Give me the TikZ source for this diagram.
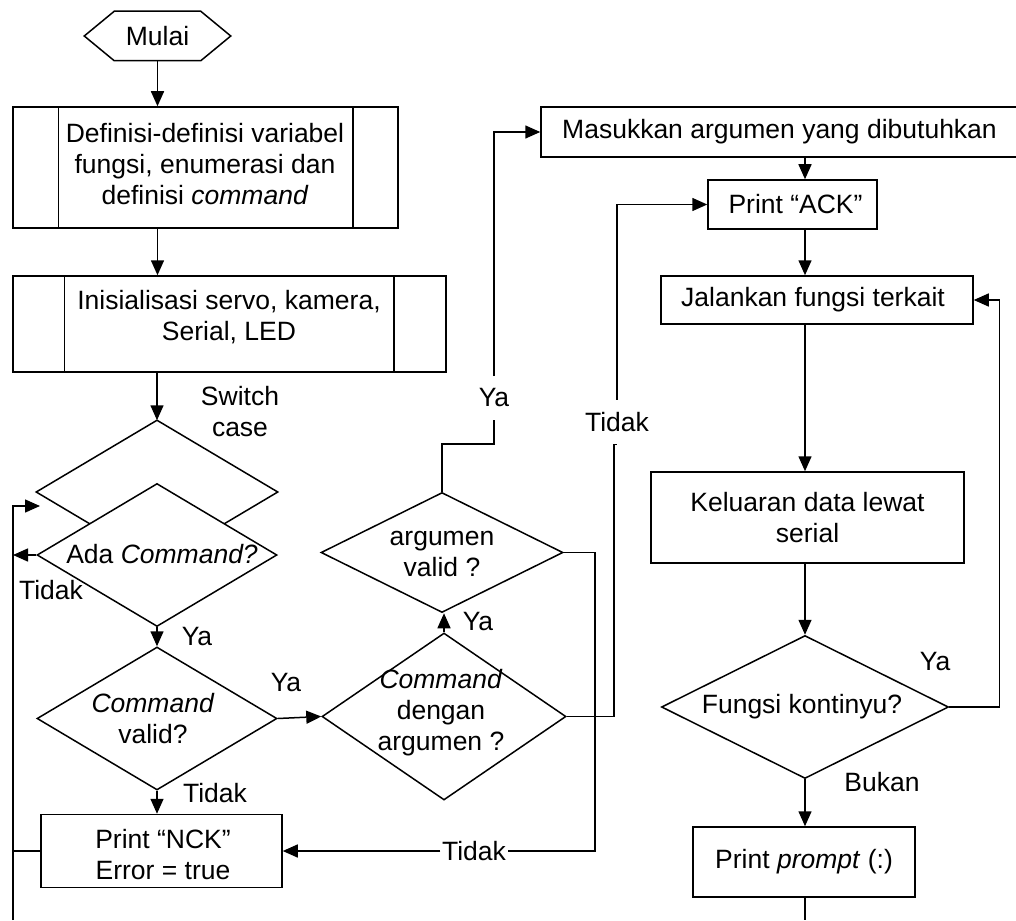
\documentclass[tikz,border=0pt]{standalone}
\usepackage{fontspec}
\setmainfont{Liberation Sans}
\usetikzlibrary{arrows.meta,shapes.geometric,calc}

\tikzset{
  every picture/.style={line width=1.5pt},
  flow/.style={-{Triangle[length=15pt,width=13pt]}},
  box/.style={draw, rectangle, inner sep=0pt},
  dia/.style={draw, diamond, inner sep=0pt},
  txt/.style={inner sep=0pt, align=center},
  lbl/.style={inner sep=2pt},
  gaplbl/.style={inner xsep=2pt, inner ysep=12pt},
}

\begin{document}
\begin{tikzpicture}[x=1pt, y=-1pt, font=\fontsize{26.5}{31}\selectfont]
\useasboundingbox (0,0) rectangle (1016,920);

% ---------- left column ----------
\node[inner sep=0pt, minimum width=145pt, minimum height=48pt] (mulai) at (157.5,36) {Mulai};
\draw (mulai.west) -- ([xshift=30pt]mulai.north west) -- ([xshift=-30pt]mulai.north east)
      -- (mulai.east) -- ([xshift=-30pt]mulai.south east) -- ([xshift=30pt]mulai.south west) -- cycle;

\node[box, minimum width=385pt, minimum height=121pt] (def) at (205.5,167.5) {};
\draw ([xshift=46pt]def.north west) -- ([xshift=46pt]def.south west);
\draw ([xshift=-46pt]def.north east) -- ([xshift=-46pt]def.south east);
\node[txt] (deftext) at (205,164) {Definisi-definisi variabel\\fungsi, enumerasi dan\\definisi \textit{command}};

\node[box, minimum width=433pt, minimum height=96pt] (init) at (229.5,324) {};
\draw ([xshift=52pt]init.north west) -- ([xshift=52pt]init.south west);
\draw ([xshift=-53pt]init.north east) -- ([xshift=-53pt]init.south east);
\node[txt] (inittext) at (229,317) {Inisialisasi servo, kamera,\\Serial, LED};

% switch case diamond, partly hidden behind the first test
\node[diamond, inner sep=0pt, minimum width=240pt, minimum height=142pt] (d1) at (157,492) {};
\draw ($(d1.west)!0.44!(d1.south)$) -- (d1.west) -- (d1.north) -- (d1.east) -- ($(d1.east)!0.44!(d1.south)$);
\node[txt] (swtext) at (240,412) {Switch\\case};

\node[dia, minimum width=240pt, minimum height=143pt] (d2) at (157,555) {};
\node[txt] (d2text) at (162,554) {Ada \textit{Command?}};

\node[dia, minimum width=240pt, minimum height=143pt] (d3) at (157,718.5) {};
\node[txt] (d3text) at (153,719) {\textit{Command}\\valid?};

\node[box, minimum width=241pt, minimum height=73pt] (nck) at (161.5,851) {};
\node[txt] (ncktext) at (163,855) {Print “NCK”\\Error = true};

% ---------- middle column ----------
\node[dia, minimum width=244pt, minimum height=167pt] (d4) at (444,716.5) {};
\node[txt] (d4text) at (441,713) {\textit{Command}\\dengan\\argumen ?};

\node[dia, minimum width=242pt, minimum height=120pt] (d5) at (442,552.5) {};
\node[txt] (d5text) at (442,554) {argumen\\valid ?};

% ---------- right column ----------
\coordinate (spine) at (805,0);
\node[box, minimum width=477pt, minimum height=50pt] (mas) at (779.5,132) {Masukkan argumen yang dibutuhkan};
\node[box, minimum width=169pt, minimum height=49pt] (ack) at (792.5,204.5) {\hspace{6pt}Print “ACK”};
\node[box, minimum width=312pt, minimum height=48pt] (jal) at (817,300) {\hspace{-8pt}Jalankan fungsi terkait};
\node[box, minimum width=313pt, minimum height=91pt, align=center] (kel) at (807.5,517.5) {Keluaran data lewat\\serial};
\node[dia, minimum width=287pt, minimum height=143pt] (d6) at (805,707) {};
\node[txt] (d6text) at (802,707) {Fungsi kontinyu?};
\node[box, minimum width=222pt, minimum height=70pt] (prm) at (804,862) {Print \textit{prompt} (:)};

% ---------- branch labels ----------
\node[gaplbl] (ya1) at (494,398) {Ya};
\node[gaplbl] (td2) at (617,422) {Tidak};
\node[lbl] (td1) at (51,590) {Tidak};
\node[lbl] (ya2) at (197,637) {Ya};
\node[lbl] (ya3) at (286,683) {Ya};
\node[lbl] (td3) at (215,793) {Tidak};
\node[lbl] (ya4) at (478,622) {Ya};
\node[inner xsep=1pt, inner ysep=2pt] (td4) at (474,851) {Tidak};
\node[lbl] (ya5) at (935,662) {Ya};
\node[lbl] (bk) at (882,782) {Bukan};

% ---------- return rail on the far left ----------
\coordinate (railtop) at (13,506);
\coordinate (railbot) at (13,920);
\coordinate (swin) at (40,506);
\coordinate (rightbot) at (805,920);

% ---------- connectors ----------
\draw[flow] (mulai.south) -- (mulai.south |- def.north);
\draw[flow] (mulai.south |- def.south) -- (mulai.south |- init.north);
\draw[flow] (d1.north |- init.south) -- (d1.north);
\draw[flow] (d2.west) -- (d2.west -| railtop);
\draw[flow] (railbot) -- (railtop) -- (swin);
\draw (nck.west) -- (nck.west -| railbot);
\draw[flow] (d2.south) -- (d3.north);
\draw[flow] (d3.east) -- (d4.west);
\draw[flow] (d3.south) -- (d3.south |- nck.north);
\draw[flow] (d4.north) -- (d4.north |- d5.south);
\draw (d5.north) -- ++(0,-48) -| (ya1.south);
\draw[flow] (ya1.north) |- (mas.west);
\draw (d5.east) -- ++(31,0) |- (td4.east);
\draw[flow] (td4.west) -- (td4.west -| nck.east);
\draw (d4.east) -- ++(47,0) |- (td2.south);
\draw[flow] (td2.north) |- (ack.west);
\draw[flow] (spine |- mas.south) -- (spine |- ack.north);
\draw[flow] (spine |- ack.south) -- (spine |- jal.north);
\draw[flow] (spine |- jal.south) -- (spine |- kel.north);
\draw[flow] (spine |- kel.south) -- (d6.north);
\draw[flow] (d6.east) -- ++(50,0) |- (jal.east);
\draw[flow] (d6.south) -- (spine |- prm.north);
\draw (spine |- prm.south) -- (rightbot);
\end{tikzpicture}
\end{document}
